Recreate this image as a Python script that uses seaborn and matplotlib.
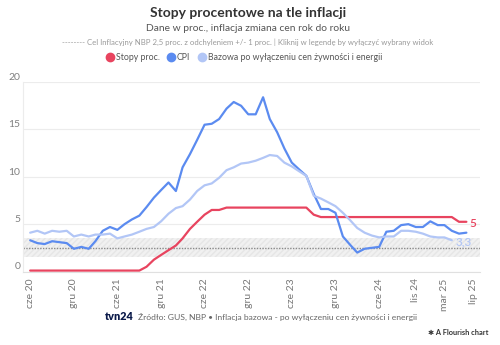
import numpy as np
import pandas as pd
import matplotlib
matplotlib.use("Agg")
import matplotlib.pyplot as plt
import matplotlib.transforms as mtransforms
from matplotlib.lines import Line2D
import seaborn as sns

# ---------------- data ----------------
months = pd.date_range("2020-06-01", periods=61, freq="MS")

cpi = [3.3, 3.0, 2.9, 3.2, 3.1, 3.0, 2.4,
       2.6, 2.4, 3.2, 4.3, 4.7, 4.4, 5.0, 5.5, 5.9, 6.8, 7.8, 8.6,
       9.4, 8.5, 11.0, 12.4, 13.9, 15.5, 15.6, 16.1, 17.2, 17.9, 17.5, 16.6,
       16.6, 18.4, 16.1, 14.7, 13.0, 11.5, 10.8, 10.1, 8.2, 6.6, 6.6, 6.2,
       3.7, 2.8, 2.0, 2.4, 2.5, 2.6, 4.2, 4.3, 4.9, 5.0, 4.7, 4.7,
       5.3, 4.9, 4.9, 4.3, 4.0, 4.1]

core = [4.1, 4.3, 4.0, 4.3, 4.2, 4.3, 3.7,
        3.9, 3.7, 3.9, 3.9, 4.0, 3.5, 3.7, 3.9, 4.2, 4.5, 4.7, 5.3,
        6.1, 6.7, 6.9, 7.6, 8.5, 9.1, 9.3, 9.9, 10.7, 11.0, 11.4, 11.5,
        11.7, 12.0, 12.3, 12.2, 11.5, 11.1, 10.6, 10.1, 8.0, 7.7, 7.3, 6.9,
        6.2, 5.4, 4.6, 4.1, 3.8, 3.6, 3.7, 3.7, 4.3, 4.3, 4.2, 4.0,
        3.7, 3.6, 3.6, 3.3]

rates = ([0.1] * 16 + [0.5, 1.25, 1.75] +
         [2.25, 2.75, 3.5, 4.5, 5.25, 6.0, 6.5, 6.5, 6.75, 6.75, 6.75, 6.75] +
         [6.75] * 8 + [6.0, 5.75, 5.75, 5.75] +
         [5.75] * 12 +
         [5.75, 5.75, 5.75, 5.75, 5.25, 5.25])

series_names = ["Stopy proc.", "CPI", "Bazowa po wyłączeniu cen żywności i energii"]
series_colors = ["#e8445f", "#5b8bf0", "#b2c6f6"]
end_labels = ["5", None, "3,3"]

tick_dates = pd.to_datetime(["2020-06-01", "2020-12-01", "2021-06-01", "2021-12-01",
                             "2022-06-01", "2022-12-01", "2023-06-01", "2023-12-01",
                             "2024-06-01", "2024-11-01", "2025-03-01", "2025-07-01"])
tick_labels = ["cze 20", "gru 20", "cze 21", "gru 21", "cze 22", "gru 22",
               "cze 23", "gru 23", "cze 24", "lis 24", "mar 25", "lip 25"]
y_ticks = [0, 5, 10, 15, 20]

target, target_tol = 2.5, 1.0

df = pd.concat([
    pd.DataFrame({"data": months[:len(rates)], "wartosc": rates, "seria": series_names[0]}),
    pd.DataFrame({"data": months[:len(cpi)], "wartosc": cpi, "seria": series_names[1]}),
    pd.DataFrame({"data": months[:len(core)], "wartosc": core, "seria": series_names[2]}),
], ignore_index=True)

# ---------------- style ----------------
sns.set_theme(style="white")
FONT = ["Lato", "DejaVu Sans"]
plt.rcParams["font.family"] = FONT

fig = plt.figure(figsize=(5.0, 3.45), dpi=100)
ax = fig.add_axes([0.046, 0.213, 0.914, 0.549])

# target band
ax.axhspan(target - target_tol, target + target_tol, facecolor="#f1f1f1",
           edgecolor="#e6e6e6", hatch="//////", linewidth=0, zorder=0)
ax.axhline(target, color="#8a8a8a", linestyle=(0, (1, 1)), linewidth=1.0, zorder=1)

sns.lineplot(data=df, x="data", y="wartosc", hue="seria", hue_order=series_names,
             palette=series_colors, linewidth=1.6, legend=False, ax=ax, zorder=3)

ax.set_xlim(pd.Timestamp("2020-05-02"), pd.Timestamp("2025-07-28"))
ax.set_ylim(0, 20)
ax.set_yticks(y_ticks)
ax.set_yticklabels([str(v) for v in y_ticks])
ax.set_xticks(tick_dates)
ax.set_xticklabels(tick_labels, rotation=90)
ax.set_xlabel("")
ax.set_ylabel("")

ax.grid(axis="y", color="#ececec", linewidth=0.8)
ax.grid(axis="x", visible=False)
for s in ["top", "right"]:
    ax.spines[s].set_visible(False)
ax.spines["left"].set_color("#ececec")
ax.spines["left"].set_linewidth(0.8)
ax.spines["bottom"].set_color("#e0e0e0")
ax.spines["bottom"].set_linewidth(0.8)

ax.tick_params(axis="x", colors="#777777", labelsize=7.5, length=3, width=0.6,
               color="#cccccc", pad=2)
ax.tick_params(axis="y", colors="#808080", labelsize=7.5, length=0, pad=2)
off = mtransforms.ScaledTranslation(0, 4.0 / 72, fig.dpi_scale_trans)
for lab in ax.get_yticklabels():
    lab.set_transform(lab.get_transform() + off)

# end labels
series_data = [rates, cpi, core]
for vals, col, lab in zip(series_data, series_colors, end_labels):
    if lab is None:
        continue
    ax.annotate(lab, xy=(months[len(vals) - 1], vals[-1]), xytext=(2.5, -1),
                textcoords="offset points", color=col, fontsize=8.5,
                ha="left", va="center", fontweight="semibold")

# ---------------- texts ----------------
fig.text(0.496, 0.962, "Stopy procentowe na tle inflacji", ha="center", va="center",
         fontsize=10, fontweight="bold", color="#333333")
fig.text(0.496, 0.918, "Dane w proc., inflacja zmiana cen rok do roku", ha="center",
         va="center", fontsize=7.4, color="#555555")
fig.text(0.496, 0.877, "-------- Cel Inflacyjny NBP 2,5 proc. z odchyleniem +/- 1 proc. | "
         "Kliknij w legendę by wyłączyć wybrany widok", ha="center", va="center",
         fontsize=5.6, color="#999999")

handles = [Line2D([0], [0], marker="o", linestyle="", markersize=6,
                  markerfacecolor=c, markeredgecolor=c) for c in series_colors]
fig.legend(handles, series_names, loc="center", bbox_to_anchor=(0.487, 0.832), ncol=3,
           frameon=False, fontsize=6.3, handletextpad=0.05, columnspacing=0.7,
           labelcolor="#555555", borderaxespad=0, handlelength=1.2)

fig.text(0.21, 0.082, "tvn24", ha="left", va="center", fontsize=7.8, fontweight="heavy",
         color="#0b1a4a")
fig.text(0.276, 0.082, "Źródło: GUS, NBP • Inflacja bazowa - po wyłączeniu cen żywności i energii",
         ha="left", va="center", fontsize=6.1, color="#666666")
fig.text(0.976, 0.035, "✱ A Flourish chart", ha="right", va="center", fontsize=5.3,
         color="#333333", fontweight="bold")

fig.savefig("out.png", dpi=100, facecolor="white")
